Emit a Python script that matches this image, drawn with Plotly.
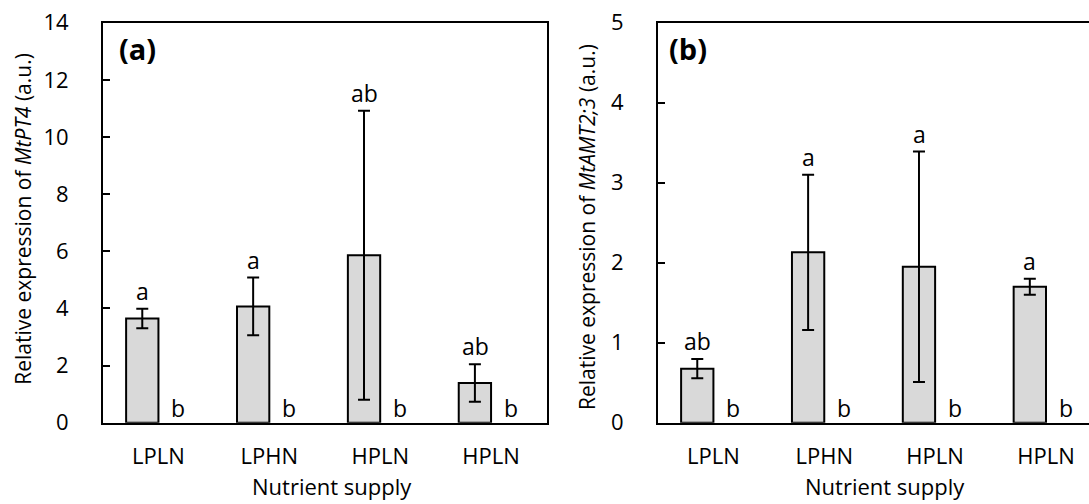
import plotly.graph_objects as go

categories = ["LPLN", "LPHN", "HPLN", "HPLN "]
tick_text = ["LPLN", "LPHN", "HPLN", "HPLN"]

# Panel (a): MtPT4
pt4_mean = [3.65, 4.07, 5.86, 1.39]
pt4_err = [0.34, 1.01, 5.06, 0.66]
pt4_letters = ["a", "a", "ab", "ab"]
pt4_zero = [0, 0, 0, 0]
pt4_zero_letters = ["b", "b", "b", "b"]

# Panel (b): MtAMT2;3
amt_mean = [0.675, 2.13, 1.95, 1.70]
amt_err = [0.12, 0.97, 1.44, 0.10]
amt_letters = ["ab", "a", "a", "a"]
amt_zero = [0, 0, 0, 0]
amt_zero_letters = ["b", "b", "b", "b"]

W, H = 1089, 504
FONT = "Open Sans"
GREY = "#d9d9d9"

fig = go.Figure()

def add_panel(xa, ya, mean, err, zero):
    fig.add_trace(go.Bar(
        x=categories, y=mean, xaxis=xa, yaxis=ya,
        marker=dict(color=GREY, line=dict(color="black", width=2)),
        error_y=dict(type="data", array=err, visible=True, color="black",
                     thickness=2, width=6),
        showlegend=False, hoverinfo="skip"))
    fig.add_trace(go.Bar(
        x=categories, y=zero, xaxis=xa, yaxis=ya,
        marker=dict(color="white", line=dict(width=0)),
        showlegend=False, hoverinfo="skip"))

add_panel("x", "y", pt4_mean, pt4_err, pt4_zero)
add_panel("x2", "y2", amt_mean, amt_err, amt_zero)

def px_x(p):
    return p / W

def px_y(p):
    return 1 - p / H

ya_dom = [px_y(422.7), px_y(22.7)]
cat_px = 110.85
b_left = 658.0
b_right_range = -0.5 + (W - b_left) / cat_px

axis_common = dict(showline=True, linecolor="black", linewidth=2,
                   showgrid=False, zeroline=False, automargin=False,
                   tickfont=dict(family=FONT, size=22, color="black"))

fig.update_layout(
    width=W, height=H,
    margin=dict(l=0, r=0, t=0, b=0, autoexpand=False),
    paper_bgcolor="white", plot_bgcolor="white",
    barmode="group", bargap=0.417, bargroupgap=0,
    font=dict(family=FONT, color="black"),
    xaxis=dict(domain=[px_x(103), px_x(546.5)], anchor="y", range=[-0.5, 3.5],
               mirror=True, ticks="", tickvals=categories, ticktext=tick_text,
               ticklabelstandoff=13, **axis_common),
    yaxis=dict(domain=ya_dom, anchor="x", range=[0, 14], dtick=2,
               mirror=True, ticks="inside", ticklen=7, tickwidth=2,
               tickcolor="black", ticklabelstandoff=28, **axis_common),
    xaxis2=dict(domain=[px_x(b_left), 1.0], anchor="y2",
                range=[-0.5, b_right_range],
                mirror=True, ticks="", tickvals=categories, ticktext=tick_text,
                ticklabelstandoff=13, **axis_common),
    yaxis2=dict(domain=ya_dom, anchor="x2", range=[0, 5], dtick=1,
                mirror=False, ticks="inside", ticklen=7, tickwidth=2,
                tickcolor="black", ticklabelstandoff=28, **axis_common),
)

ann = []
lf = dict(family=FONT, size=23, color="black")

def letters(xref, yref, mean, err, labs, zlabs):
    for c, m, e, t in zip(categories, mean, err, labs):
        ann.append(dict(x=c, y=m + e, xref=xref, yref=yref, text=t,
                        showarrow=False, xanchor="center", yanchor="bottom",
                        xshift=-16, yshift=0, font=lf))
    for c, t in zip(categories, zlabs):
        ann.append(dict(x=c, y=0, xref=xref, yref=yref, text=t,
                        showarrow=False, xanchor="center", yanchor="bottom",
                        xshift=20, yshift=-3, font=lf))

letters("x", "y", pt4_mean, pt4_err, pt4_letters, pt4_zero_letters)
letters("x2", "y2", amt_mean, amt_err, amt_letters, amt_zero_letters)

# panel labels
ann.append(dict(x=px_x(137.5), y=px_y(48.5), xref="paper", yref="paper",
                text="<b>(a)</b>", showarrow=False, xanchor="center",
                yanchor="middle", font=dict(family=FONT, size=29, color="black")))
ann.append(dict(x=px_x(688), y=px_y(48.5), xref="paper", yref="paper",
                text="<b>(b)</b>", showarrow=False, xanchor="center",
                yanchor="middle", font=dict(family=FONT, size=29, color="black")))

# axis titles
tf = dict(family=FONT, size=21, color="black")
ann.append(dict(x=px_x(22.7), y=px_y(219), xref="paper", yref="paper",
                text="Relative expression of <i>MtPT4</i> (a.u.)", textangle=-90,
                showarrow=False, xanchor="center", yanchor="middle", font=tf))
ann.append(dict(x=px_x(587), y=px_y(227), xref="paper", yref="paper",
                text="Relative expression of <i>MtAMT2;3</i> (a.u.)", textangle=-90,
                showarrow=False, xanchor="center", yanchor="middle", font=tf))
nf = dict(family=FONT, size=22, color="black")
ann.append(dict(x=px_x(332), y=0, xref="paper", yref="paper",
                text="Nutrient supply", showarrow=False, xanchor="center",
                yanchor="bottom", yshift=1, font=nf))
ann.append(dict(x=px_x(885), y=0, xref="paper", yref="paper",
                text="Nutrient supply", showarrow=False, xanchor="center",
                yanchor="bottom", yshift=1, font=nf))

fig.update_layout(annotations=ann)
fig.write_html("out.html")
